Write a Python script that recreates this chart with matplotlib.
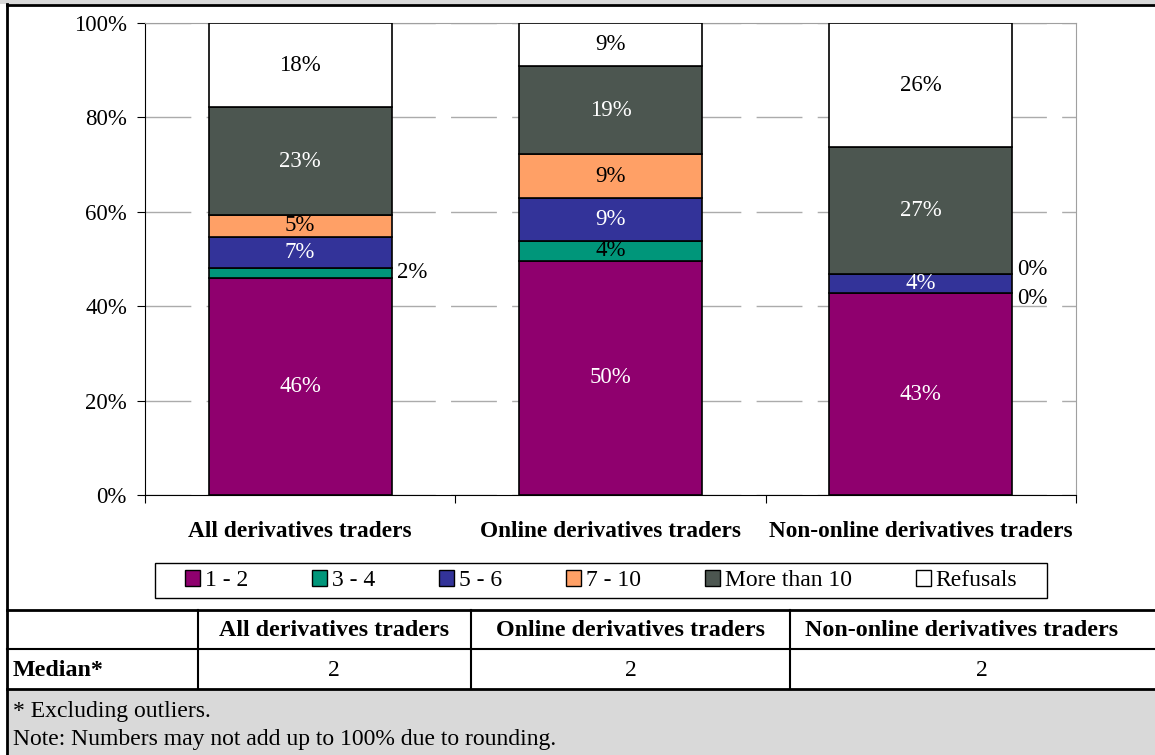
import matplotlib
matplotlib.use('Agg')
import matplotlib.pyplot as plt
from matplotlib.lines import Line2D
from matplotlib.patches import Rectangle, Patch
import numpy as np

plt.rcParams['font.family'] = ['Liberation Serif', 'DejaVu Serif']

W, H = 1155, 755  # canvas in pixels

groups = ['All derivatives traders', 'Online derivatives traders',
          'Non-online derivatives traders']
series = ['1 - 2', '3 - 4', '5 - 6', '7 - 10', 'More than 10', 'Refusals']
colors = ['#8F006E', '#00967A', '#333399', '#FFA066', '#4C5650', '#FFFFFF']
label_colors = ['white', 'black', 'white', 'black', 'white', 'black']

# shares in %
one_two = [46.0, 49.6, 42.7]
three_four = [2.1, 4.3, 0.0]
five_six = [6.6, 9.0, 4.1]
seven_ten = [4.6, 9.3, 0.0]
more_ten = [22.9, 18.7, 26.9]
refusals = [17.8, 9.1, 26.3]

yticks = [0, 20, 40, 60, 80, 100]
medians = ['2', '2', '2']
footnote = '* Excluding outliers.'
note = 'Note: Numbers may not add up to 100% due to rounding.'


def fx(x):
    return x / W


def fy(y):
    return 1 - y / H


fig = plt.figure(figsize=(W / 100, H / 100), dpi=100)

# plot area
ax = fig.add_axes([fx(145), fy(495), fx(1076 - 145), (495 - 23) / H])
values = [one_two, three_four, five_six, seven_ten, more_ten, refusals]
x = np.arange(len(groups))
bw = 0.59
bottom = np.zeros(len(groups))
outside = [[] for _ in groups]
for k, vals in enumerate(values):
    vals = np.array(vals)
    ax.bar(x, vals, bw, bottom=bottom, color=colors[k], edgecolor='black',
           linewidth=1.2, zorder=3)
    for i, v in enumerate(vals):
        mid = bottom[i] + v / 2
        txt = f'{round(v)}%'
        if v < 3:
            outside[i].append([mid, txt])
        else:
            ax.text(x[i], mid, txt, ha='center', va='center', fontsize=16.5,
                    color=label_colors[k], zorder=4)
    bottom += vals

# small segments get their label beside the bar, spread apart if crowded
for i, labs in enumerate(outside):
    if len(labs) == 2 and abs(labs[1][0] - labs[0][0]) < 6.2:
        c = (labs[0][0] + labs[1][0]) / 2
        labs[0][0], labs[1][0] = c - 3.1, c + 3.1
    for mid, txt in labs:
        ax.annotate(txt, (x[i] + bw / 2, mid), xytext=(3.5, 0),
                    textcoords='offset points', ha='left', va='center',
                    fontsize=16.5, color='black', zorder=4)

ax.set_xlim(-0.5, 2.5)
ax.set_ylim(0, 100)
ax.set_yticks(yticks)
ax.set_yticklabels([f'{t}%' for t in yticks], fontsize=16.5)
ax.set_xticks([-0.5, 0.5, 1.5, 2.5])
ax.set_xticklabels([])
ax.set_xticks(x, minor=True)
ax.set_xticklabels(groups, minor=True, fontsize=16.8, fontweight='bold')
ax.tick_params(axis='x', which='minor', length=0, pad=19)
ax.tick_params(axis='x', which='major', length=6, direction='out')
ax.tick_params(axis='y', length=6, direction='out', pad=7)
ax.yaxis.grid(True, color='#ABABAB', linewidth=1, dashes=(33, 11), zorder=0)
ax.set_axisbelow(True)
for s in ['top', 'right']:
    ax.spines[s].set_color('#A0A0A0')
for s in ['left', 'bottom']:
    ax.spines[s].set_color('black')

# legend, drawn inside its own box
fig.add_artist(Rectangle((fx(155), fy(598)), fx(1047 - 155), (598 - 563) / H,
                         transform=fig.transFigure, facecolor='white',
                         edgecolor='black', linewidth=1))
handles = [Patch(facecolor=c, edgecolor='black', linewidth=1) for c in colors]
fig.legend(handles, series, loc='center', bbox_to_anchor=(fx(601), fy(580.5)),
           ncol=6, frameon=False, fontsize=17, handlelength=0.64,
           handleheight=0.64, handletextpad=0.21, columnspacing=2.7)

# frame, table and footer
fig.add_artist(Rectangle((0, fy(4)), 1, 4 / H, transform=fig.transFigure,
                         facecolor='#D9D9D9', edgecolor='none'))
fig.add_artist(Rectangle((fx(7), 0), 1, fy(689), transform=fig.transFigure,
                         facecolor='#D9D9D9', edgecolor='none'))


def hline(y, lw):
    fig.add_artist(Line2D([fx(7), 1], [fy(y), fy(y)], color='black',
                          linewidth=lw, transform=fig.transFigure))


def vline(xp, y0, y1, lw):
    fig.add_artist(Line2D([fx(xp), fx(xp)], [fy(y0), fy(y1)], color='black',
                          linewidth=lw, transform=fig.transFigure))


hline(4.5, 2)
hline(610, 2)
hline(649, 1.5)
hline(689, 2)
vline(7, 4, 755, 2)
for xp in [198, 471, 790]:
    vline(xp, 610, 689, 1.5)

col_centers = [334, 631, 962]
val_centers = [334, 631, 982]
for c, g in zip(col_centers, groups):
    fig.text(fx(c), fy(631), g, ha='center', va='center', fontsize=17.3,
             fontweight='bold')
for c, m in zip(val_centers, medians):
    fig.text(fx(c), fy(670), m, ha='center', va='center', fontsize=17)
fig.text(fx(13), fy(670), 'Median*', ha='left', va='center', fontsize=17.3,
         fontweight='bold')

fig.text(fx(13), fy(711), footnote, ha='left', va='center', fontsize=17)
fig.text(fx(13), fy(739), note, ha='left', va='center', fontsize=17)

fig.savefig('out.png', dpi=100)
